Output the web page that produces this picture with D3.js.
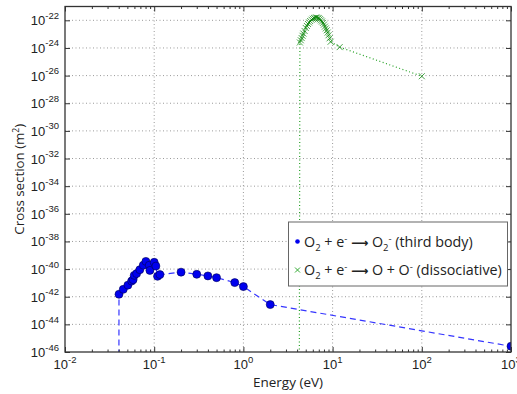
<!DOCTYPE html>
<html>
<head>
<meta charset="utf-8">
<script src="https://cdn.jsdelivr.net/npm/d3@7"></script>
<style>
  body { margin: 0; background: #fff; }
  text { fill: #222; }
</style>
</head>
<body>
<div id="chart"></div>
<script>
// O2 + e- -> O2- (third body)
var thirdEnergy = [0.04, 0.0403, 0.045, 0.0507, 0.0558, 0.058, 0.0597, 0.0635, 0.069, 0.0754, 0.0807,
    0.088, 0.0895, 0.1, 0.1045, 0.109, 0.116, 0.2, 0.3, 0.4, 0.5, 0.8, 1.0, 2.0, 1000];
var thirdSigma = [1e-60, 1.5e-42, 3.4e-42, 6.9e-42, 1.35e-41, 1.7e-41, 3.5e-41, 4.7e-41, 9e-41, 1.9e-40, 3.6e-40,
    1.9e-40, 8e-41, 3.1e-40, 1.65e-40, 3e-41, 4e-41, 6e-41, 4.2e-41, 3.2e-41, 2.4e-41, 1.05e-41, 5.4e-42, 2.7e-43, 2.6e-46];

// O2 + e- -> O + O- (dissociative)
var dissEnergy = [4.2, 4.3, 4.4, 4.5, 4.6, 4.7, 4.85, 5.0, 5.15, 5.3, 5.45, 5.6, 5.8, 6.0, 6.2, 6.4, 6.6,
    6.8, 7.0, 7.2, 7.4, 7.6, 7.8, 8.0, 8.2, 8.4, 8.6, 8.8, 9.0, 9.25, 9.5, 12, 100];
var dissSigma = [1e-60, 2.5e-24, 3.6e-24, 5.2e-24, 7.6e-24, 1.1e-23, 1.7e-23, 2.8e-23, 3.9e-23, 5.4e-23, 7e-23, 8.9e-23, 1.1e-22, 1.3e-22, 1.45e-22, 1.55e-22, 1.58e-22,
    1.5e-22, 1.4e-22, 1.2e-22, 1e-22, 8.2e-23, 6.5e-23, 4.9e-23, 3.5e-23, 2.6e-23, 1.9e-23, 1.3e-23, 8.3e-24, 5e-24, 2.8e-24, 1.15e-24, 9e-27];

// tick exponents
var xTickExp = [-2, -1, 0, 1, 2, 3];
var yTickExp = [-46, -44, -42, -40, -38, -36, -34, -32, -30, -28, -26, -24, -22];

var svgWidth = 517;
var svgHeight = 394;

var margin = {
    top: 6.5,
    right: 6,
    bottom: 42,
    left: 65
};

var width = svgWidth - margin.left - margin.right;
var height = svgHeight - margin.top - margin.bottom;

var svg = d3.select("#chart")
    .append("svg")
    .attr("width", svgWidth)
    .attr("height", svgHeight);

var chartGroup = svg.append("g")
    .attr("transform", `translate(${margin.left}, ${margin.top})`);

var xScale = d3.scaleLog()
    .domain([1e-2, 1e3])
    .range([0, width]);

var yScale = d3.scaleLog()
    .domain([1e-46, 1e-21])
    .range([height, 0]);

var xMajor = xTickExp.map(e => Math.pow(10, e));
var yMajor = yTickExp.map(e => Math.pow(10, e));
var xMinor = xScale.ticks().filter(v => xMajor.every(m => Math.abs(Math.log10(v) - Math.log10(m)) > 1e-6));

svg.append("defs").append("clipPath")
    .attr("id", "plotclip")
    .append("rect")
    .attr("width", width)
    .attr("height", height);

// grid
var grid = chartGroup.append("g").attr("class", "grid");
grid.selectAll(".gx").data(xMajor.slice(1, -1)).enter().append("line")
    .attr("x1", d => xScale(d)).attr("x2", d => xScale(d))
    .attr("y1", 0).attr("y2", height)
    .attr("stroke", "#9a9a9a").attr("stroke-dasharray", "1,2.5");
grid.selectAll(".gy").data(yMajor.slice(1)).enter().append("line")
    .attr("x1", 0).attr("x2", width)
    .attr("y1", d => yScale(d)).attr("y2", d => yScale(d))
    .attr("stroke", "#9a9a9a").attr("stroke-dasharray", "1,2.5");

var plot = chartGroup.append("g").attr("clip-path", "url(#plotclip)");

var lineGen = d3.line()
    .x(d => xScale(d[0]))
    .y(d => yScale(d[1]));

var thirdData = thirdEnergy.map((e, i) => [e, thirdSigma[i]]);
var dissData = dissEnergy.map((e, i) => [e, dissSigma[i]]);

// dissociative: green dotted + x
plot.append("path")
    .datum(dissData)
    .attr("d", lineGen)
    .attr("fill", "none")
    .attr("stroke", "#22a022")
    .attr("stroke-width", 1.2)
    .attr("stroke-dasharray", "1,2.5");

plot.selectAll(".xm")
    .data(dissData)
    .enter()
    .append("path")
    .attr("transform", d => `translate(${xScale(d[0])},${yScale(d[1])})`)
    .attr("d", "M-3,-3L3,3M-3,3L3,-3")
    .attr("stroke", "#008000")
    .attr("stroke-opacity", 0.7)
    .attr("stroke-width", 1);

// third body: blue dashed + dots
plot.append("path")
    .datum(thirdData)
    .attr("d", lineGen)
    .attr("fill", "none")
    .attr("stroke", "#3535ff")
    .attr("stroke-width", 1.2)
    .attr("stroke-dasharray", "6,4");

plot.selectAll("circle")
    .data(thirdData)
    .enter()
    .append("circle")
    .attr("cx", d => xScale(d[0]))
    .attr("cy", d => yScale(d[1]))
    .attr("r", 4)
    .style("fill", "#0000ee")
    .style("stroke", "#000050")
    .style("stroke-width", 0.6);

// axes, ticks inside
var axCol = "#333";
var axes = [
    [d3.axisBottom, `translate(0,${height})`, xScale, xMajor, xMinor],
    [d3.axisTop, "translate(0,0)", xScale, xMajor, xMinor],
    [d3.axisLeft, "translate(0,0)", yScale, yMajor, []],
    [d3.axisRight, `translate(${width},0)`, yScale, yMajor, []]
];
axes.forEach(function(a) {
    var gMaj = chartGroup.append("g").attr("transform", a[1])
        .call(a[0](a[2]).tickValues(a[3]).tickSize(-5).tickFormat(""));
    var gMin = chartGroup.append("g").attr("transform", a[1])
        .call(a[0](a[2]).tickValues(a[4]).tickSize(-2.5).tickFormat(""));
    [gMaj, gMin].forEach(g => {
        g.select(".domain").remove();
        g.selectAll("line").attr("stroke", axCol);
    });
});

chartGroup.append("rect")
    .attr("width", width)
    .attr("height", height)
    .attr("fill", "none")
    .attr("stroke", axCol)
    .attr("stroke-width", 1.3);

// tick labels
var tickFont = "Liberation Sans, Arial, sans-serif";
xTickExp.forEach(function(e) {
    var t = chartGroup.append("text")
        .attr("x", xScale(Math.pow(10, e)))
        .attr("y", height + 17)
        .attr("text-anchor", "middle")
        .style("font-family", tickFont)
        .style("font-size", "13px");
    t.append("tspan").text("10");
    t.append("tspan").attr("dy", -6.5).style("font-size", "9.5px").text(e);
});
yTickExp.forEach(function(e) {
    var t = chartGroup.append("text")
        .attr("x", -6)
        .attr("y", yScale(Math.pow(10, e)) + 5)
        .attr("text-anchor", "end")
        .style("font-family", tickFont)
        .style("font-size", "13px");
    t.append("tspan").text("10");
    t.append("tspan").attr("dy", -6.5).style("font-size", "9.5px").text(e);
});

// axis titles
var labelFont = "Open Sans, sans-serif";
svg.append("text")
    .attr("x", margin.left + width / 2)
    .attr("y", 387)
    .attr("text-anchor", "middle")
    .style("font-family", labelFont)
    .style("font-size", "13.5px")
    .text("Energy (eV)");

var yl = svg.append("text")
    .attr("transform", `translate(24, ${margin.top + height / 2}) rotate(-90)`)
    .attr("text-anchor", "middle")
    .style("font-family", labelFont)
    .style("font-size", "13.3px");
yl.append("tspan").text("Cross section (m");
yl.append("tspan").attr("dy", -5).style("font-size", "8.5px").text("2");
yl.append("tspan").attr("dy", 5).text(")");

// legend
var legend = svg.append("g");
legend.append("rect")
    .attr("x", 288.5).attr("y", 222)
    .attr("width", 219).attr("height", 64)
    .attr("fill", "#fff")
    .attr("stroke", "#666")
    .attr("stroke-width", 1);

var legendRows = [
    {y: 241.5, marker: "dot", parts: [["O", 0], ["2", 1], [" + e", 0], ["-", 2], [" ", 0], ["\u27F6", 3], [" O", 0], ["2", 1], ["-", 2], [" (third body)", 0]]},
    {y: 270, marker: "x", parts: [["O", 0], ["2", 1], [" + e", 0], ["-", 2], [" ", 0], ["\u27F6", 3], [" O + O", 0], ["-", 2], [" (dissociative)", 0]]}
];
legendRows.forEach(function(r) {
    if (r.marker === "dot") {
        legend.append("circle").attr("cx", 297.5).attr("cy", r.y).attr("r", 2.3).attr("fill", "#0000ee");
    } else {
        legend.append("path")
            .attr("transform", `translate(297.5,${r.y})`)
            .attr("d", "M-2.5,-2.5L2.5,2.5M-2.5,2.5L2.5,-2.5")
            .attr("stroke", "#33aa33").attr("stroke-width", 1);
    }
    var t = legend.append("text")
        .attr("x", 304)
        .attr("y", r.y + 5)
        .style("font-family", labelFont)
        .style("font-size", "14.3px");
    var shift = 0;
    r.parts.forEach(function(p) {
        var target = p[1] === 1 ? 4 : (p[1] === 2 ? -5 : 0);
        var ts = t.append("tspan").attr("dy", target - shift).text(p[0]);
        if (p[1] === 1 || p[1] === 2) ts.style("font-size", "9.5px");
        if (p[1] === 3) ts.style("font-family", "DejaVu Sans").style("font-size", "12px").style("font-weight", "bold");
        shift = target;
    });
});
</script>
</body>
</html>
